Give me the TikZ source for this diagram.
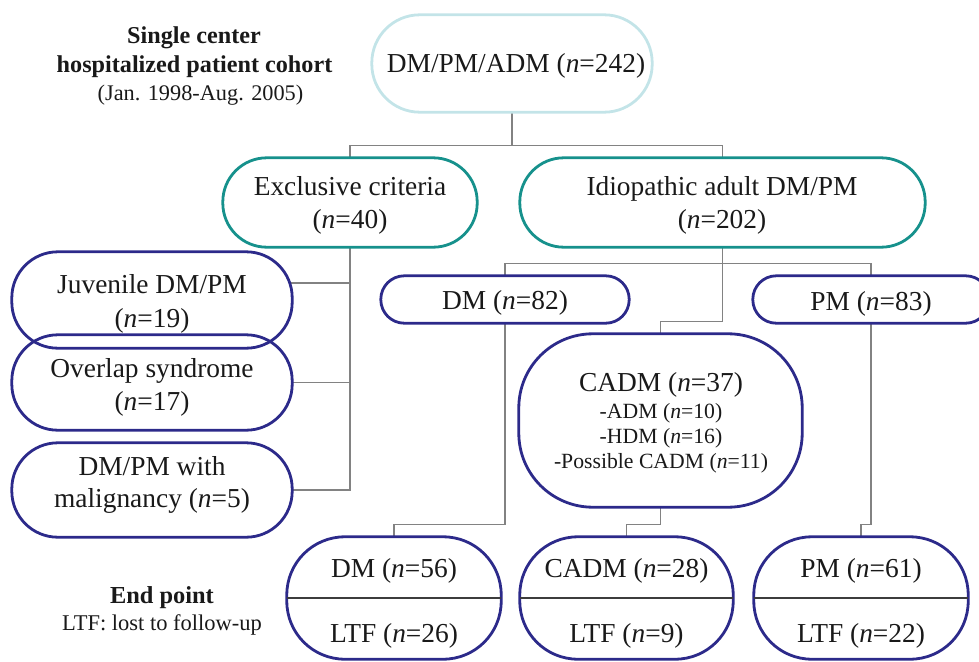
\documentclass[tikz,border=0pt]{standalone}
\usepackage{fontspec}
\setmainfont{Liberation Serif}
\usetikzlibrary{calc}
\definecolor{navy}{RGB}{44,42,138}
\definecolor{tealb}{RGB}{22,145,140}
\definecolor{lcyan}{RGB}{195,228,232}
\definecolor{conng}{RGB}{130,130,130}
\definecolor{divg}{RGB}{60,60,60}
\definecolor{ink}{RGB}{25,25,25}
\begin{document}
\begin{tikzpicture}[x=1pt,y=-1pt,
 box/.style={draw, line width=2.8pt, inner sep=0pt},
 conn/.style={draw=conng, line width=1.3pt},
 divl/.style={draw=divg, line width=1.3pt},
 anchorbox/.style={inner sep=0pt},
 big/.style={font=\fontsize{27.4}{33}\selectfont, text=ink, inner sep=0pt, anchor=base},
 small/.style={font=\fontsize{21.7}{25}\selectfont, text=ink, inner sep=0pt, anchor=base},
 headb/.style={font=\fontsize{24.2}{28}\selectfont\bfseries, text=ink, inner sep=0pt, anchor=base},
 headr/.style={font=\fontsize{22.3}{27}\selectfont, text=ink, inner sep=0pt, anchor=base},
]
\useasboundingbox (0,0) rectangle (979,661);
\clip (0,0) rectangle (979,661);

% boxes (positions)
\path
 (512,63.5) node[anchorbox, minimum width=280pt, minimum height=97pt] (top) {}
 (350,202.5) node[anchorbox, minimum width=254pt, minimum height=89pt] (excl) {}
 (722.5,202.5) node[anchorbox, minimum width=405pt, minimum height=89pt] (idio) {}
 (152,300) node[anchorbox, minimum width=280pt, minimum height=96pt] (juv) {}
 (152,382.5) node[anchorbox, minimum width=280pt, minimum height=95pt] (ovl) {}
 (152,490) node[anchorbox, minimum width=280pt, minimum height=94pt] (mal) {}
 (505,299.5) node[anchorbox, minimum width=248pt, minimum height=47pt] (dm82) {}
 (871,299.5) node[anchorbox, minimum width=236pt, minimum height=47pt] (pm83) {}
 (660.5,420.5) node[anchorbox, minimum width=283pt, minimum height=173pt] (cadm) {}
 (394,598) node[anchorbox, minimum width=214pt, minimum height=122pt] (dm56) {}
 (626.5,598) node[anchorbox, minimum width=213pt, minimum height=122pt] (cadm28) {}
 (861,598) node[anchorbox, minimum width=214pt, minimum height=122pt] (pm61) {};

% connectors
\draw[conn] (top.south) -- ++(0,33) coordinate (jtop);
\draw[conn] (excl.north) |- (jtop) -| (idio.north);
\draw[conn] (excl.south) |- (mal.east);
\draw[conn] (ovl.east) -- (ovl.east -| excl.south);
\coordinate (jv) at ([xshift=-2.5pt,yshift=17pt]juv.east);
\draw[conn] (jv) -- (jv -| excl.south);
\draw[conn] (idio.south) -- ++(0,74) -| (cadm.north);
\coordinate (jdp) at ($(idio.south)+(0,16)$);
\draw[conn] (dm82.north) |- (jdp) -| (pm83.north);
\draw[conn] (dm82.south) -- ++(0,201) -| (dm56.north);
\draw[conn] (cadm.south) -- ++(0,17) -| (cadm28.north);
\draw[conn] (pm83.south) -- ++(0,201) -| (pm61.north);

% box outlines
\draw[box, draw=lcyan, rounded corners=48pt] (top.north west) rectangle (top.south east);
\draw[box, draw=tealb, rounded corners=44pt] (excl.north west) rectangle (excl.south east);
\draw[box, draw=tealb, rounded corners=44pt] (idio.north west) rectangle (idio.south east);
\draw[box, draw=navy, rounded corners=46pt] (juv.north west) rectangle (juv.south east);
\draw[box, draw=navy, rounded corners=46pt] (ovl.north west) rectangle (ovl.south east);
\draw[box, draw=navy, rounded corners=46pt] (mal.north west) rectangle (mal.south east);
\draw[box, draw=navy, rounded corners=23.5pt] (dm82.north west) rectangle (dm82.south east);
\draw[box, draw=navy, rounded corners=23.5pt] (pm83.north west) rectangle (pm83.south east);
\draw[box, draw=navy, rounded corners=74pt] (cadm.north west) rectangle (cadm.south east);
\draw[box, draw=navy, rounded corners=58pt] (dm56.north west) rectangle (dm56.south east);
\draw[box, draw=navy, rounded corners=58pt] (cadm28.north west) rectangle (cadm28.south east);
\draw[box, draw=navy, rounded corners=58pt] (pm61.north west) rectangle (pm61.south east);

% dividers
\draw[divl] (dm56.west) -- (dm56.east);
\draw[divl] (cadm28.west) -- (cadm28.east);
\draw[divl] (pm61.west) -- (pm61.east);

% texts
\node[headb] (h1) at (194,44) {Single center};
\node[headb] (h2) at (194.5,73) {hospitalized patient cohort};
\node[headr] (h3) at (200.5,100) {(Jan. 1998-Aug. 2005)};
\node[big] (ttop) at (516,73) {DM/PM/ADM (\textit{n}=242)};
\node[big] (te1) at (350,195) {Exclusive criteria};
\node[big] (te2) at (350,228) {(\textit{n}=40)};
\node[big] (ti1) at (722,195) {Idiopathic adult DM/PM};
\node[big] (ti2) at (722,228) {(\textit{n}=202)};
\node[big] (tj1) at (152,293) {Juvenile DM/PM};
\node[big] (tj2) at (152,327) {(\textit{n}=19)};
\node[big] (to1) at (152,377) {Overlap syndrome};
\node[big] (to2) at (152,410) {(\textit{n}=17)};
\node[big] (tm1) at (152,475) {DM/PM with};
\node[big] (tm2) at (152,507) {malignancy (\textit{n}=5)};
\node[big] (td82) at (505,309) {DM (\textit{n}=82)};
\node[big] (tp83) at (871,310) {PM (\textit{n}=83)};
\node[big] (tc1) at (661,391) {CADM (\textit{n}=37)};
\node[small] (tc2) at (661,418) {-ADM (\textit{n}=10)};
\node[small] (tc3) at (661,443) {-HDM (\textit{n}=16)};
\node[small] (tc4) at (661,468) {-Possible CADM (\textit{n}=11)};
\node[big] (td56) at (394,577) {DM (\textit{n}=56)};
\node[big] (tl26) at (394,642) {LTF (\textit{n}=26)};
\node[big] (tc28) at (626.5,577) {CADM (\textit{n}=28)};
\node[big] (tl9) at (626.5,642) {LTF (\textit{n}=9)};
\node[big] (tp61) at (861,577) {PM (\textit{n}=61)};
\node[big] (tl22) at (861,642) {LTF (\textit{n}=22)};
\node[font=\fontsize{24.4}{28}\selectfont\bfseries, text=ink, inner sep=0pt, anchor=base] (tep) at (162,603) {End point};
\node[font=\fontsize{22.5}{27}\selectfont, text=ink, inner sep=0pt, anchor=base] (tltf) at (162,630) {LTF: lost to follow-up};
\end{tikzpicture}
\end{document}
